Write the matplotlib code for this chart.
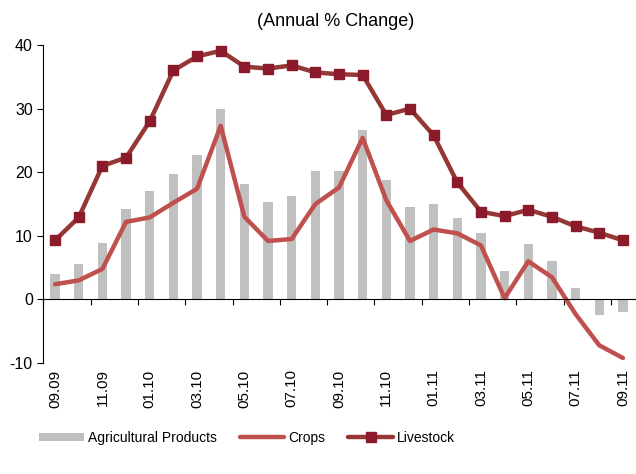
import numpy as np
import matplotlib
matplotlib.use('Agg')
import matplotlib.pyplot as plt

plt.rcParams['font.family'] = ['Liberation Sans', 'DejaVu Sans']
plt.rcParams['axes.unicode_minus'] = False

# DATA
months = ['09.09', '10.09', '11.09', '12.09', '01.10', '02.10', '03.10', '04.10', '05.10',
          '06.10', '07.10', '08.10', '09.10', '10.10', '11.10', '12.10', '01.11', '02.11',
          '03.11', '04.11', '05.11', '06.11', '07.11', '08.11', '09.11']
agri = [4.0, 5.5, 8.8, 14.2, 17.0, 19.8, 22.7, 29.9, 18.2, 15.4, 16.2, 20.2, 20.2,
        26.7, 18.8, 14.5, 15.0, 12.8, 10.5, 4.5, 8.7, 6.0, 1.8, -2.4, -2.0]
crops = [2.4, 3.0, 4.8, 12.2, 12.9, 15.2, 17.4, 27.3, 13.0, 9.2, 9.5, 15.0, 17.6,
         25.4, 15.6, 9.2, 11.0, 10.4, 8.5, 0.2, 6.0, 3.5, -2.3, -7.2, -9.2]
livestock = [9.3, 12.9, 21.0, 22.3, 28.0, 36.0, 38.2, 39.1, 36.6, 36.3, 36.8, 35.7, 35.4,
             35.3, 29.0, 30.0, 25.8, 18.4, 13.8, 13.1, 14.1, 13.0, 11.5, 10.5, 9.3]

x = np.arange(len(months))

fig = plt.figure(figsize=(6.36, 4.74), dpi=100)
ax = fig.add_axes([0.068, 0.234, 0.93, 0.671])

# Add traces
bars = ax.bar(x, agri, width=0.4, color='#C0C0C0', label='Agricultural Products', zorder=1)
l_crops, = ax.plot(x, crops, color='#C0504D', linewidth=3.2, label='Crops', zorder=2,
                   solid_capstyle='round', solid_joinstyle='round')
l_live, = ax.plot(x, livestock, color='#953735', linewidth=3.2, marker='s', markersize=6.5,
                  markerfacecolor='#8B1A2B', markeredgecolor='#8B1A2B', label='Livestock',
                  zorder=3, solid_capstyle='round', solid_joinstyle='round')

# Format axes
ax.set_xlim(-0.5, len(months) - 0.5)
ax.set_ylim(-10, 40)
ax.set_yticks([-10, 0, 10, 20, 30, 40])
ax.tick_params(axis='y', labelsize=11.5, length=4, direction='out')

ax.spines['top'].set_visible(False)
ax.spines['right'].set_visible(False)
ax.spines['bottom'].set_position(('data', 0))
ax.set_xticks(np.arange(-0.5, len(months), 2))
ax.set_xticklabels([])
ax.tick_params(axis='x', length=4, direction='out')

for i in range(0, len(months), 2):
    ax.text(i, -0.02, months[i], transform=ax.get_xaxis_transform(), rotation=90,
            ha='center', va='top', fontsize=11)

# Format rest of plot
fig.text(0.527, 0.955, '(Annual % Change)', ha='center', va='center', fontsize=13)
ax.legend([bars, l_crops, l_live], ['Agricultural Products', 'Crops', 'Livestock'],
          loc='center', bbox_to_anchor=(0.345, -0.235), ncol=3, frameon=False,
          fontsize=10, handlelength=3.2, handleheight=0.55, columnspacing=1.65,
          handletextpad=0.3)

plt.savefig('out.png', dpi=100)
